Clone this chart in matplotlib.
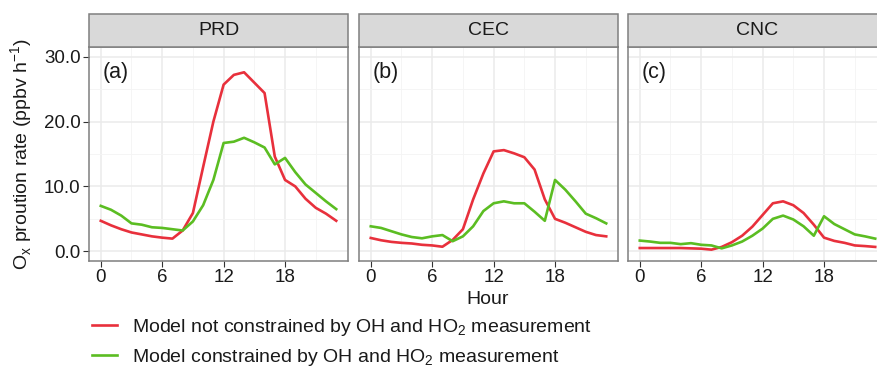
import numpy as np
import matplotlib
matplotlib.use("Agg")
import matplotlib.pyplot as plt
from matplotlib.patches import Rectangle

plt.rcParams['font.family'] = ['Liberation Sans', 'DejaVu Sans']
plt.rcParams['mathtext.fontset'] = 'custom'
plt.rcParams['mathtext.rm'] = 'Liberation Sans'

hours = list(range(24))
regions = ["PRD", "CEC", "CNC"]
panel_tags = ["(a)", "(b)", "(c)"]

# model not constrained by OH/HO2 (red)
prd_free = [4.7, 4.0, 3.4, 2.9, 2.6, 2.3, 2.1, 1.95, 3.2, 5.9, 13.0, 20.0,
            25.7, 27.2, 27.6, 26.0, 24.4, 14.6, 11.0, 10.0, 8.1, 6.7, 5.8, 4.7]
cec_free = [2.05, 1.7, 1.45, 1.3, 1.2, 1.0, 0.9, 0.7, 1.75, 3.4, 8.0, 12.0,
            15.4, 15.6, 15.1, 14.5, 12.6, 8.0, 5.0, 4.4, 3.7, 3.0, 2.5, 2.3]
cnc_free = [0.5, 0.5, 0.5, 0.5, 0.5, 0.45, 0.4, 0.25, 0.67, 1.4, 2.4, 3.8,
            5.6, 7.4, 7.7, 7.1, 5.9, 4.1, 2.1, 1.6, 1.3, 0.9, 0.8, 0.67]

# model constrained by OH/HO2 (green)
prd_con = [7.0, 6.4, 5.5, 4.3, 4.1, 3.7, 3.6, 3.4, 3.2, 4.6, 7.1, 11.0,
           16.7, 16.9, 17.5, 16.8, 16.0, 13.4, 14.4, 12.2, 10.3, 9.0, 7.7, 6.5]
cec_con = [3.85, 3.6, 3.1, 2.6, 2.2, 2.0, 2.3, 2.5, 1.55, 2.3, 3.85, 6.2,
           7.4, 7.7, 7.4, 7.4, 6.1, 4.7, 11.0, 9.5, 7.7, 5.8, 5.1, 4.3]
cnc_con = [1.65, 1.5, 1.3, 1.3, 1.1, 1.25, 1.0, 0.9, 0.45, 0.9, 1.5, 2.4,
           3.5, 5.0, 5.5, 4.9, 3.85, 2.4, 5.4, 4.2, 3.4, 2.6, 2.3, 1.95]

free = [prd_free, cec_free, cnc_free]
con = [prd_con, cec_con, cnc_con]

red = '#E8303C'
green = '#5BBD22'
frame = '#7F7F7F'
txt = '#1a1a1a'

W, H = 877, 368
fig = plt.figure(figsize=(W / 100, H / 100), dpi=100)

lefts = [89, 359, 628]
pw = 259
top, bot = 47, 261
strip_h = 33

axes = []
for i in range(3):
    ax = fig.add_axes([lefts[i] / W, 1 - bot / H, pw / W, (bot - top) / H])
    axes.append(ax)
    ax.plot(hours, free[i], color=red, lw=1.9, zorder=3)
    ax.plot(hours, con[i], color=green, lw=1.9, zorder=3)
    ax.set_xlim(-1.15, 24.15)
    ax.set_ylim(-1.5, 31.5)
    ax.set_xticks([0, 6, 12, 18])
    ax.set_xticks([3, 9, 15, 21], minor=True)
    ax.set_yticks([0, 10, 20, 30])
    ax.set_yticks([5, 15, 25], minor=True)
    ax.grid(which='major', color='#EBEBEB', lw=1.1)
    ax.grid(which='minor', color='#F4F4F4', lw=0.6)
    ax.set_axisbelow(True)
    for s in ax.spines.values():
        s.set_color(frame)
        s.set_linewidth(1.1)
    ax.tick_params(which='major', length=4, color='#333333', width=0.8,
                   labelsize=13.5, labelcolor=txt, pad=2)
    ax.tick_params(which='minor', length=0)
    if i == 0:
        ax.set_yticklabels(['0.0', '10.0', '20.0', '30.0'])
    else:
        ax.tick_params(axis='y', labelleft=False, length=0)
    ax.text(0.053, 0.883, panel_tags[i], transform=ax.transAxes, fontsize=15.5,
            color=txt, va='center', ha='left')
    # facet strip
    strip = Rectangle((lefts[i] / W, 1 - top / H), pw / W, strip_h / H,
                      transform=fig.transFigure, facecolor='#D9D9D9',
                      edgecolor=frame, lw=1.1, clip_on=False)
    fig.patches.append(strip)
    fig.text((lefts[i] + pw / 2) / W, 1 - (top - strip_h / 2) / H, regions[i],
             ha='center', va='center', fontsize=14, color=txt)

fig.text(488 / W, 1 - 299 / H, 'Hour', ha='center', va='center',
         fontsize=14, color=txt)
fig.text(22 / W, 1 - 154 / H,
         r'O$_\mathregular{x}$ proution rate (ppbv h$^\mathregular{-1}$)',
         rotation=90, ha='center', va='center', fontsize=14, color=txt)

legend_labels = [r'Model not constrained by OH and HO$_\mathregular{2}$ measurement',
                 r'Model constrained by OH and HO$_\mathregular{2}$ measurement']
handles = [plt.Line2D([], [], color=red, lw=1.9),
           plt.Line2D([], [], color=green, lw=1.9)]
fig.legend(handles, legend_labels, loc='upper left',
           bbox_to_anchor=(84 / W, 1 - 309 / H), frameon=False, fontsize=14,
           handlelength=1.3, handletextpad=0.75, labelspacing=0.45,
           borderaxespad=0, labelcolor=txt)

fig.savefig('out.png', dpi=100)
